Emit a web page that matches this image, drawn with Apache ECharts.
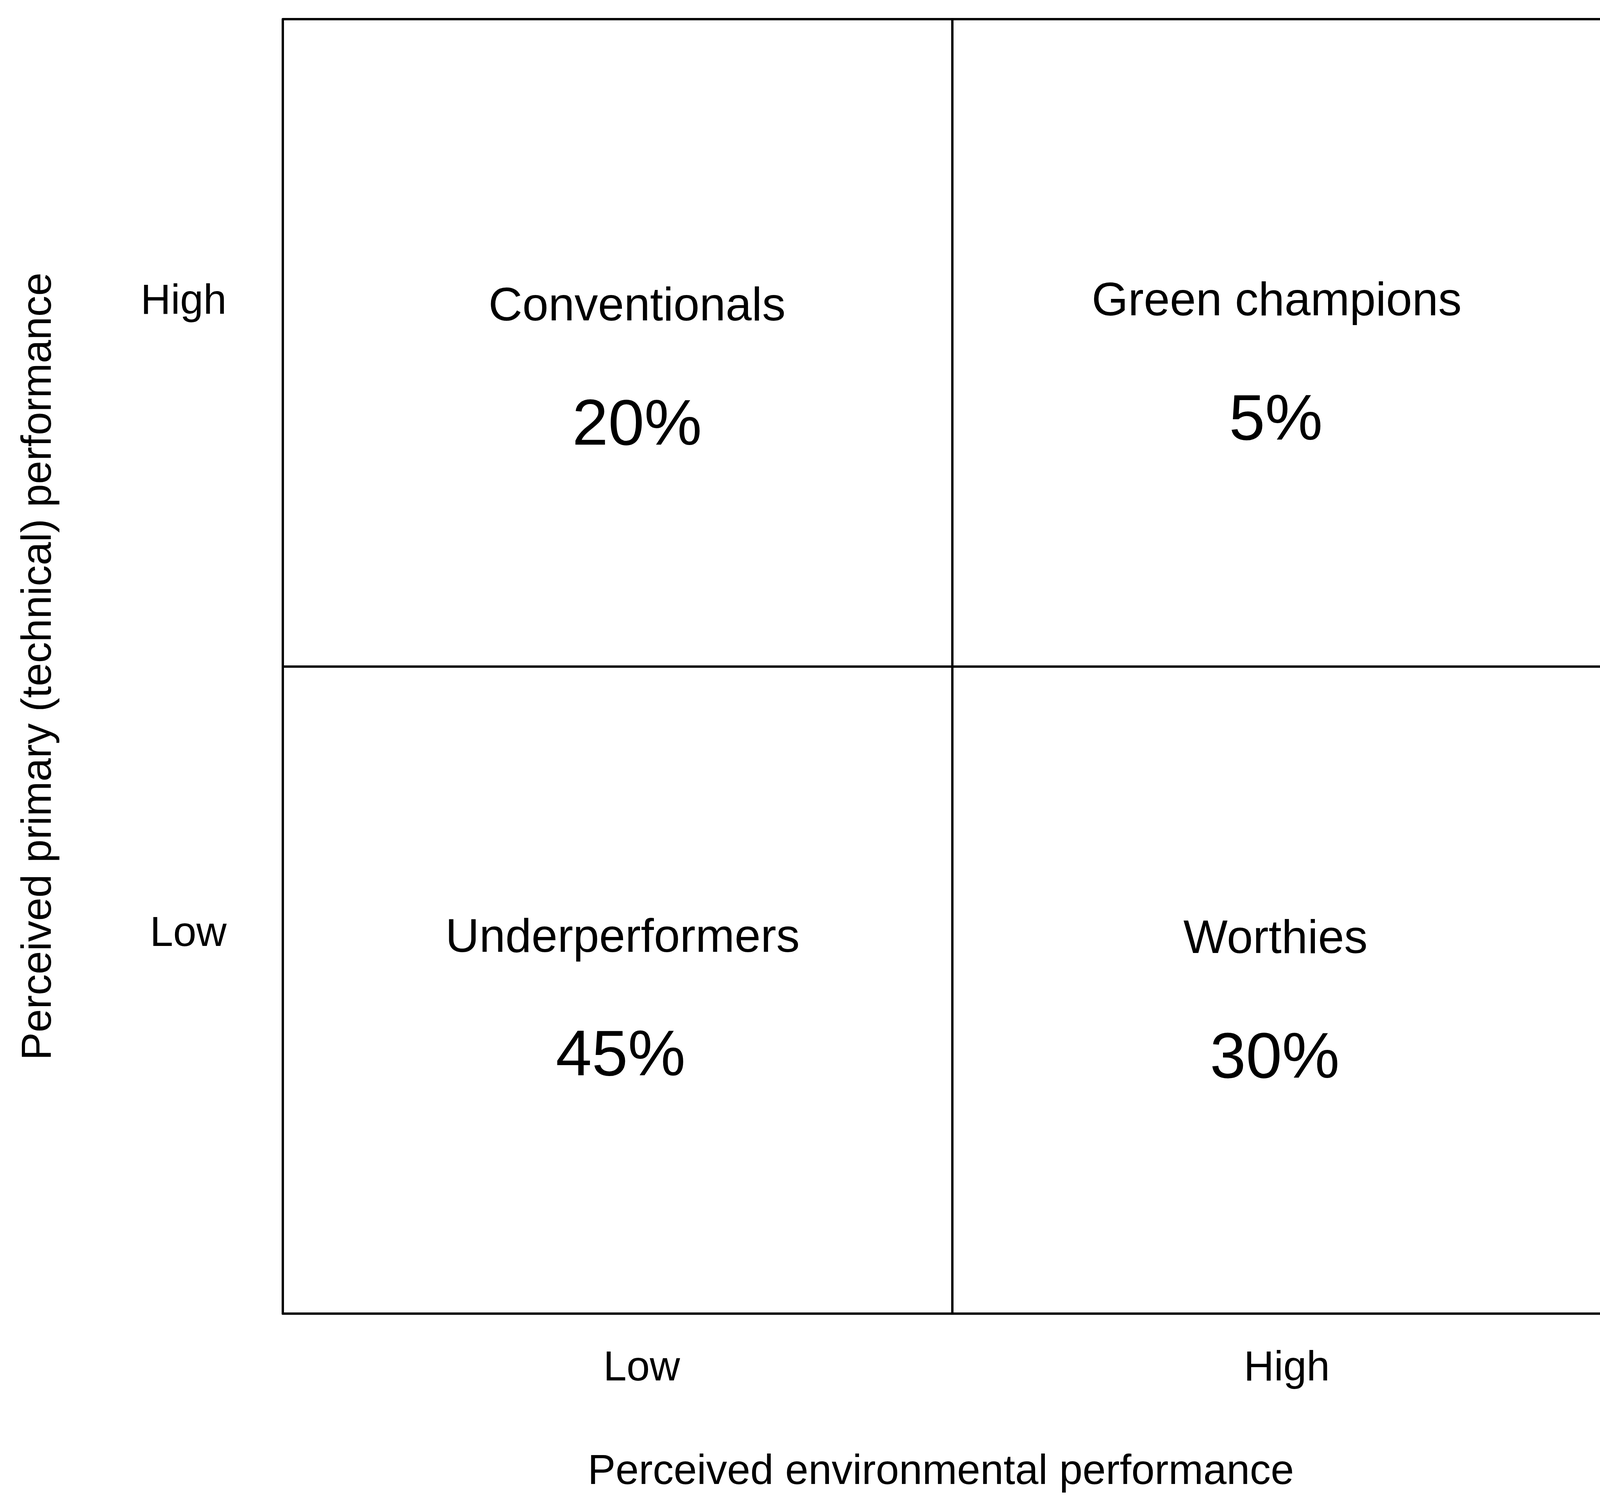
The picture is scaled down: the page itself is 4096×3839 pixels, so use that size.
<!DOCTYPE html>
<html>
<head>
<meta charset="utf-8">
<style>
  html, body { margin: 0; padding: 0; background: #ffffff; }
  #chart { width: 4096px; height: 3839px; }
</style>
<script src="https://cdn.jsdelivr.net/npm/echarts@6/dist/echarts.min.js"></script>
</head>
<body>
<div id="chart"></div>
<script>
// ---- data ----
const xCategories = ['Low', 'High'];
const yCategories = ['Low', 'High'];
const quadrantNames = ['Conventionals', 'Green champions', 'Underperformers', 'Worthies'];
const quadrantX = ['Low', 'High', 'Low', 'High'];
const quadrantY = ['High', 'High', 'Low', 'Low'];
const quadrantShares = [20, 5, 45, 30];
const xTitle = 'Perceived environmental performance';
const yTitle = 'Perceived primary (technical) performance';

// ---- styles (label nudges, px) ----
const nameNudge = { 'Conventionals': [50, -90], 'Green champions': [-26, -103], 'Underperformers': [13, -131], 'Worthies': [-29, -128] };
const shareNudge = { 'Conventionals': [50, 215], 'Green champions': [-28, 202], 'Underperformers': [8, 172], 'Worthies': [-31, 178] };
const xLabelPad = { 'Low': [0, 0, 0, 124], 'High': [0, 0, 0, 0] };

const FONT = '"Liberation Sans", Arial, Helvetica, sans-serif';
const LINE = { color: '#000000', width: 6 };
const AXIS_FONT = 107;

const chart = echarts.init(document.getElementById('chart'), null, { renderer: 'canvas' });

const nameData = quadrantNames.map((n, i) => ({
  value: [quadrantX[i], quadrantY[i]],
  name: n,
  label: { offset: nameNudge[n], color: '#000000' }
}));
const shareData = quadrantNames.map((n, i) => ({
  value: [quadrantX[i], quadrantY[i], quadrantShares[i]],
  name: n,
  label: { offset: shareNudge[n], color: '#000000' }
}));

const option = {
  animation: false,
  backgroundColor: '#ffffff',
  textStyle: { fontFamily: FONT, color: '#000000' },
  grid: { left: 724, top: 49, width: 3427, height: 3313, containLabel: false, outerBoundsMode: 'none' },
  xAxis: {
    type: 'category',
    data: xCategories.map(c => ({ value: c, textStyle: { padding: xLabelPad[c] } })),
    boundaryGap: true,
    axisLine: { show: true, lineStyle: LINE },
    axisTick: { show: false },
    splitLine: { show: true, lineStyle: LINE },
    axisLabel: { fontSize: AXIS_FONT, color: '#000000', fontFamily: FONT, margin: 88 },
    name: xTitle,
    nameLocation: 'middle',
    nameGap: 353,
    nameTextStyle: { fontSize: AXIS_FONT, color: '#000000', fontFamily: FONT, padding: [0, 58, 0, 0] }
  },
  yAxis: {
    type: 'category',
    data: yCategories,
    boundaryGap: true,
    axisLine: { show: true, lineStyle: LINE },
    axisTick: { show: false },
    splitLine: { show: true, lineStyle: LINE },
    axisLabel: {
      fontSize: AXIS_FONT, color: '#000000', fontFamily: FONT, margin: 144,
      formatter: v => '{' + (v === 'High' ? 'hi' : 'lo') + '|' + v + '}',
      rich: {
        hi: { fontSize: AXIS_FONT, color: '#000000', fontFamily: FONT, padding: [0, 0, 208, 0] },
        lo: { fontSize: AXIS_FONT, color: '#000000', fontFamily: FONT, padding: [0, 0, 284, 0] }
      }
    },
    name: yTitle,
    nameLocation: 'middle',
    nameRotate: 90,
    nameGap: 570,
    nameTextStyle: { fontSize: AXIS_FONT, color: '#000000', fontFamily: FONT }
  },
  series: [
    {
      type: 'scatter',
      silent: true,
      symbolSize: 1,
      itemStyle: { color: '#ffffff', opacity: 1 },
      data: nameData,
      label: {
        show: true, position: 'inside', formatter: p => p.name,
        fontSize: 120, color: '#000000', fontFamily: FONT, opacity: 1
      }
    },
    {
      type: 'scatter',
      silent: true,
      symbolSize: 1,
      itemStyle: { color: '#ffffff', opacity: 1 },
      data: shareData,
      label: {
        show: true, position: 'inside', formatter: p => p.value[2] + '%',
        fontSize: 166, color: '#000000', fontFamily: FONT, opacity: 1
      }
    }
  ]
};
chart.setOption(option);
</script>
</body>
</html>
